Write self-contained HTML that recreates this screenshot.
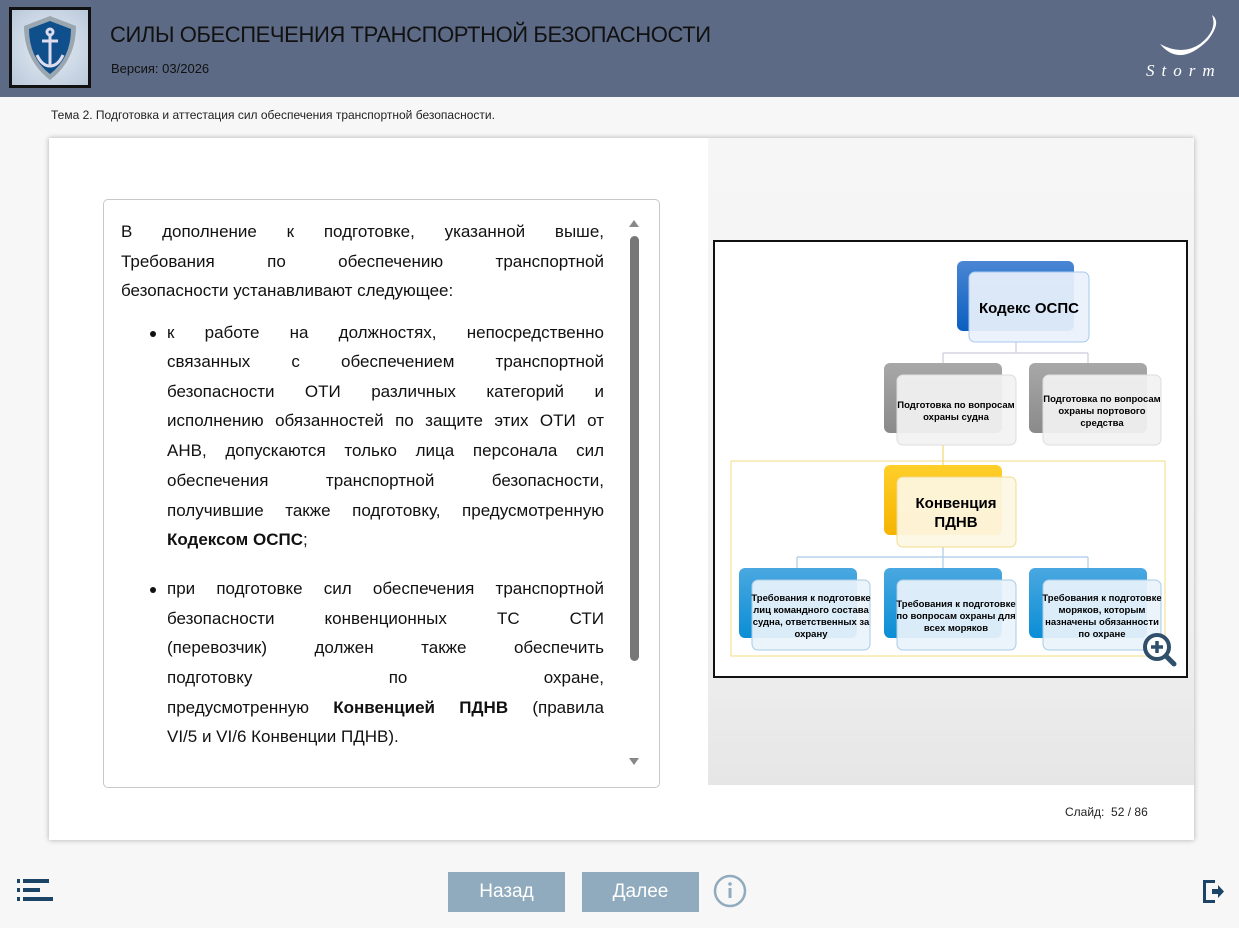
<!DOCTYPE html>
<html><head><meta charset="utf-8"><style>
*{margin:0;padding:0;box-sizing:border-box}
body{width:1239px;height:928px;background:#f7f7f7;font-family:"Liberation Sans","DejaVu Sans",sans-serif;position:relative;overflow:hidden}
.hdr{position:absolute;left:0;top:0;width:1239px;height:97px;background:#5c6a85}
.logo{position:absolute;left:9px;top:7px;width:82px;height:81px;border:3px solid #111;background:radial-gradient(circle,#e8eef6,#b9c8da)}
.t1{position:absolute;left:110px;top:22px;font-size:22px;color:#111;letter-spacing:-0.4px}
.t2{position:absolute;left:111px;top:61px;font-size:13px;color:#111}
.topic{position:absolute;left:51px;top:108px;font-size:12px;color:#222}
.card{position:absolute;left:49px;top:138px;width:1145px;height:702px;background:#fff;box-shadow:0 0 5px rgba(0,0,0,.3)}
.right{position:absolute;left:708px;top:138px;width:486px;height:647px;background:linear-gradient(#f6f6f6,#f0f0f0 75%,#e6e6e6)}
.box{position:absolute;left:103px;top:199px;width:557px;height:589px;border:1px solid #c8c8c8;border-radius:5px;background:#fff}
.l{position:absolute;font-size:17px;line-height:20px;color:#111;text-align:justify;text-align-last:justify;white-space:nowrap}
.l.e{text-align-last:left}
.l b{font-weight:bold}
.a{left:17px;width:483px}
.b{left:63px;width:437px}
.dot{position:absolute;left:46px;width:6px;height:6px;border-radius:50%;background:#111}
.sb{position:absolute;left:526px;top:36px;width:9px;height:425px;background:#777;border-radius:5px}
.slide{position:absolute;left:1065px;top:805px;font-size:12px;color:#222}
.btn{position:absolute;top:872px;width:117px;height:40px;background:#90abbd;color:#fff;font-size:19px;text-align:center;line-height:40px;font-family:"Liberation Sans Narrow","Liberation Sans",sans-serif}
</style></head><body>
<div class="hdr">
<div class="logo"><svg width="76" height="75" viewBox="0 0 76 75"><path d="M38 6 L64 16 Q64 50 38 70 Q12 50 12 16 Z" fill="#9aa6b0"/><path d="M38 11 L59 19 Q59 48 38 64 Q17 48 17 19 Z" fill="#0f4f8c"/><g stroke="#dde" stroke-width="3" fill="none"><circle cx="38" cy="22" r="3"/><line x1="38" y1="25" x2="38" y2="56"/><line x1="30" y1="31" x2="46" y2="31"/><path d="M25 45 Q30 56 38 56 Q46 56 51 45"/></g></svg></div>
<div class="t1">СИЛЫ ОБЕСПЕЧЕНИЯ ТРАНСПОРТНОЙ БЕЗОПАСНОСТИ</div>
<div class="t2">Версия: 03/2026</div>
<svg style="position:absolute;left:1140px;top:10px" width="95" height="75"><path d="M20 34 Q40 58 68 30 Q82 12 72 5 Q78 20 60 34 Q42 46 20 34Z" fill="#fff"/><text x="6" y="66" fill="#fff" font-size="17" font-family="Liberation Serif" font-style="italic" letter-spacing="7">Storm</text></svg>
</div>
<div class="topic">Тема 2. Подготовка и аттестация сил обеспечения транспортной безопасности.</div>
<div class="card"></div>
<div class="right"></div>
<div class="box">
<div class="l a" style="top:22px">В дополнение к подготовке, указанной выше,</div>
<div class="l a" style="top:52px">Требования по обеспечению транспортной</div>
<div class="l a e" style="top:81px">безопасности устанавливают следующее:</div>
<div class="dot" style="top:131px"></div>
<div class="l b" style="top:123px">к работе на должностях, непосредственно</div>
<div class="l b" style="top:152px">связанных с обеспечением транспортной</div>
<div class="l b" style="top:182px">безопасности ОТИ различных категорий и</div>
<div class="l b" style="top:211px">исполнению обязанностей по защите этих ОТИ от</div>
<div class="l b" style="top:241px">АНВ, допускаются только лица персонала сил</div>
<div class="l b" style="top:271px">обеспечения транспортной безопасности,</div>
<div class="l b" style="top:301px">получившие также подготовку, предусмотренную</div>
<div class="l b e" style="top:330px"><b>Кодексом ОСПС</b>;</div>
<div class="dot" style="top:387px"></div>
<div class="l b" style="top:379px">при подготовке сил обеспечения транспортной</div>
<div class="l b" style="top:409px">безопасности конвенционных ТС СТИ</div>
<div class="l b" style="top:438px">(перевозчик) должен также обеспечить</div>
<div class="l b" style="top:468px">подготовку по охране,</div>
<div class="l b" style="top:498px">предусмотренную <b>Конвенцией ПДНВ</b> (правила</div>
<div class="l b e" style="top:527px">VI/5 и VI/6 Конвенции ПДНВ).</div>
<div class="sb"></div>
<div style="position:absolute;left:525px;top:20px;border:5px solid transparent;border-bottom:7px solid #888;border-top:0"></div>
<div style="position:absolute;left:525px;top:558px;border:5px solid transparent;border-top:7px solid #888;border-bottom:0"></div>
</div>
<svg style="position:absolute;left:0;top:0" width="1239" height="928" font-family="'Liberation Sans Narrow','Liberation Sans',sans-serif" font-weight="bold" text-anchor="middle">
<defs>
<linearGradient id="gb" x1="0" y1="0" x2="0" y2="1"><stop offset="0" stop-color="#4a86d4"/><stop offset="1" stop-color="#0b5fc0"/></linearGradient>
<linearGradient id="gg" x1="0" y1="0" x2="0" y2="1"><stop offset="0" stop-color="#a8a8a8"/><stop offset="1" stop-color="#8a8a8a"/></linearGradient>
<linearGradient id="gy" x1="0" y1="0" x2="0" y2="1"><stop offset="0" stop-color="#ffcf2a"/><stop offset="1" stop-color="#f5b400"/></linearGradient>
<linearGradient id="gc" x1="0" y1="0" x2="0" y2="1"><stop offset="0" stop-color="#4aa8e0"/><stop offset="1" stop-color="#0a8ed6"/></linearGradient>
</defs>
<rect x="714" y="241" width="473" height="436" fill="#fff" stroke="#111" stroke-width="2"/>
<rect x="731" y="461" width="434" height="195" fill="none" stroke="#f2dc80"/>
<g fill="none" stroke="#ccd" stroke-width="1.2">
<path d="M1016 342V353M943 353H1088M943 353V363M1088 353V363"/>
<path d="M943 445V477" stroke="#f0d870"/>
<path d="M943 547V557M797 557H1088M797 557V568M943 557V568M1088 557V568" stroke="#a9cbe6"/>
</g>
<rect x="957" y="261" width="117" height="70" rx="6" fill="url(#gb)"/>
<rect x="969" y="272" width="120" height="70" rx="6" fill="#eaf1fb" fill-opacity=".93" stroke="#a8c8ef"/>
<text x="1029" y="313" font-size="15">Кодекс ОСПС</text>
<rect x="884" y="363" width="118" height="70" rx="6" fill="url(#gg)"/>
<rect x="897" y="375" width="119" height="70" rx="6" fill="#f2f2f2" fill-opacity=".93" stroke="#ddd"/>
<text font-size="9.5"><tspan x="956" y="408">Подготовка по вопросам</tspan><tspan x="956" y="420">охраны судна</tspan></text>
<rect x="1029" y="363" width="118" height="70" rx="6" fill="url(#gg)"/>
<rect x="1043" y="375" width="118" height="70" rx="6" fill="#f2f2f2" fill-opacity=".93" stroke="#ddd"/>
<text font-size="9.5"><tspan x="1102" y="402">Подготовка по вопросам</tspan><tspan x="1102" y="414">охраны портового</tspan><tspan x="1102" y="426">средства</tspan></text>
<rect x="884" y="465" width="118" height="70" rx="6" fill="url(#gy)"/>
<rect x="897" y="477" width="119" height="70" rx="6" fill="#fdf8e4" fill-opacity=".93" stroke="#f3dc8a"/>
<text font-size="15"><tspan x="956" y="508">Конвенция</tspan><tspan x="956" y="527">ПДНВ</tspan></text>
<g>
<rect x="739" y="568" width="118" height="70" rx="6" fill="url(#gc)"/>
<rect x="752" y="580" width="118" height="70" rx="6" fill="#eaf3fb" fill-opacity=".93" stroke="#a9cbe6"/>
<text font-size="9.5"><tspan x="811" y="601">Требования к подготовке</tspan><tspan x="811" y="613">лиц командного состава</tspan><tspan x="811" y="625">судна, ответственных за</tspan><tspan x="811" y="637">охрану</tspan></text>
<rect x="884" y="568" width="118" height="70" rx="6" fill="url(#gc)"/>
<rect x="897" y="580" width="119" height="70" rx="6" fill="#eaf3fb" fill-opacity=".93" stroke="#a9cbe6"/>
<text font-size="9.5"><tspan x="956" y="607">Требования к подготовке</tspan><tspan x="956" y="619">по вопросам охраны для</tspan><tspan x="956" y="631">всех моряков</tspan></text>
<rect x="1029" y="568" width="118" height="70" rx="6" fill="url(#gc)"/>
<rect x="1043" y="580" width="118" height="70" rx="6" fill="#eaf3fb" fill-opacity=".93" stroke="#a9cbe6"/>
<text font-size="9.5"><tspan x="1102" y="601">Требования к подготовке</tspan><tspan x="1102" y="613">моряков, которым</tspan><tspan x="1102" y="625">назначены обязанности</tspan><tspan x="1102" y="637">по охране</tspan></text>
</g>
<circle cx="1157" cy="647" r="12" fill="#fff" stroke="#2f4f6a" stroke-width="4"/>
<line x1="1166" y1="656" x2="1174" y2="664" stroke="#2f4f6a" stroke-width="5" stroke-linecap="round"/>
<path d="M1157 641V653M1151 647H1163" stroke="#2f4f6a" stroke-width="3.5"/>
<g fill="#1b4466"><rect x="17" y="879" width="3" height="4"/><rect x="23" y="879" width="26" height="4"/><rect x="17" y="888" width="3" height="4"/><rect x="23" y="888" width="17" height="4"/><rect x="17" y="897" width="3" height="4"/><rect x="23" y="897" width="30" height="4"/>
<path d="M1203 880h12v3h-9v17h9v3h-12z"/><path d="M1212 889h6v-4l6 6.5-6 6.5v-4h-6z"/></g>
<circle cx="730" cy="891" r="15" fill="none" stroke="#90abbd" stroke-width="2.5"/>
<circle cx="730" cy="884" r="1.8" fill="#90abbd"/><rect x="728.5" y="888" width="3" height="10" fill="#90abbd"/>
</svg>
<div class="slide">Слайд:&nbsp; 52 / 86</div>
<div class="btn" style="left:448px">Назад</div>
<div class="btn" style="left:582px">Далее</div>
</body></html>
